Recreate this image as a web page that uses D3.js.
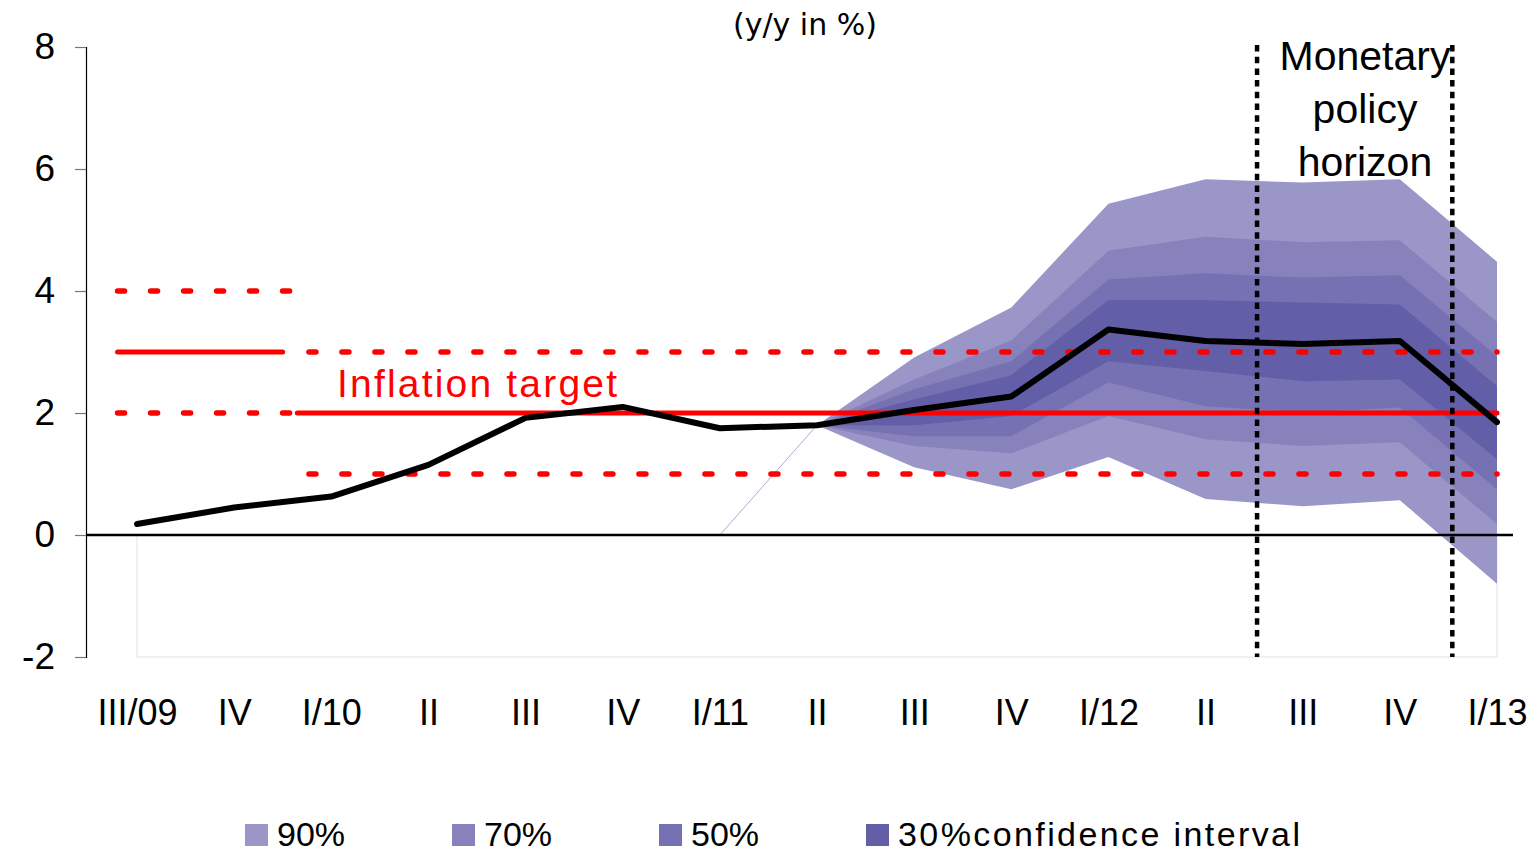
<!DOCTYPE html>
<html>
<head>
<meta charset="utf-8">
<script src="https://cdn.jsdelivr.net/npm/d3@7"></script>
<style>
  body { margin: 0; background: #fff; }
  svg { display: block; font-family: "Liberation Sans", Arial, sans-serif; }
</style>
</head>
<body>
<div id="chart-container"></div>
<script>
// Quarter labels on the x axis
const quarters = ["III/09", "IV", "I/10", "II", "III", "IV", "I/11", "II", "III", "IV", "I/12", "II", "III", "IV", "I/13"];

// Inflation y/y in %, one value per quarter
const inflation = [0.18, 0.45, 0.63, 1.15, 1.92, 2.1, 1.75, 1.8, 2.05, 2.27, 3.37, 3.18, 3.13, 3.18, 1.85];

// Fan chart bands, starting at II/11 (index 7)
const fanStart = 7;
const hi90 = [1.8, 2.91, 3.73, 5.43, 5.83, 5.78, 5.83, 4.48];
const hi70 = [1.8, 2.55, 3.19, 4.66, 4.89, 4.80, 4.83, 3.49];
const hi50 = [1.8, 2.39, 2.85, 4.19, 4.29, 4.22, 4.26, 2.93];
const hi30 = [1.8, 2.22, 2.62, 3.85, 3.85, 3.81, 3.78, 2.44];
const lo30 = [1.8, 1.80, 1.95, 2.85, 2.69, 2.52, 2.55, 1.24];
const lo50 = [1.8, 1.62, 1.62, 2.50, 2.11, 2.01, 2.09, 0.75];
const lo70 = [1.8, 1.46, 1.34, 1.95, 1.57, 1.46, 1.52, 0.18];
const lo90 = [1.8, 1.11, 0.75, 1.28, 0.59, 0.47, 0.57, -0.80];

const yTicks = [-2, 0, 2, 4, 6, 8];
const bandNames = ["90%", "70%", "50%", "30%confidence interval"];
const bandColors = ["#9a96c8", "#8782bb", "#7671b2", "#625ea8"];

// target lines: [value, from index, to index]
const targetSolid = [[3, -0.2, 1.5], [2, 1.65, 14]];
const targetDotted = [[4, -0.2, 1.58], [2, -0.2, 1.58], [3, 1.77, 14], [1, 1.77, 14]];
const horizon = [11.53, 13.54];

const W = 1539, H = 855;

const x = d3.scaleLinear().domain([0, 14]).range([137, 1497]);
const y = d3.scaleLinear().domain([-2, 8]).range([657, 47]);

const svg = d3.select("#chart-container")
  .append("svg")
    .attr("width", W)
    .attr("height", H);

// faint outline of the base area (as in the original)
svg.append("path")
  .attr("d", `M${x(0)},${y(0)}V${y(-2)}H${x(14)}V${y(0)}`)
  .attr("fill", "none")
  .attr("stroke", "#e2e1f0")
  .attr("stroke-width", 1);
svg.append("line")
  .attr("x1", x(6)).attr("y1", y(0))
  .attr("x2", x(7)).attr("y2", y(1.8))
  .attr("stroke", "#9a96c8")
  .attr("stroke-width", 0.8);

// Fan chart
const bands = [[hi90, lo90], [hi70, lo70], [hi50, lo50], [hi30, lo30]];
const area = d3.area()
  .x((d, i) => x(fanStart + i))
  .y0(d => y(d[1]))
  .y1(d => y(d[0]));

bands.forEach((b, k) => {
  const pts = b[0].map((v, i) => [v, b[1][i]]);
  svg.append("path")
    .datum(pts)
    .attr("fill", bandColors[k])
    .attr("d", area);
});

// zero line
svg.append("line")
  .attr("x1", 86).attr("x2", 1513)
  .attr("y1", y(0)).attr("y2", y(0))
  .attr("stroke", "#000")
  .attr("stroke-width", 2.5);

// inflation target lines
svg.selectAll(".tSolid")
  .data(targetSolid)
  .join("line")
  .attr("x1", d => x(d[1]))
  .attr("x2", d => x(d[2]))
  .attr("y1", d => y(d[0]))
  .attr("y2", d => y(d[0]))
  .attr("stroke", "#ff0000")
  .attr("stroke-width", 5)
  .attr("stroke-linecap", "round");

svg.selectAll(".tDot")
  .data(targetDotted)
  .join("line")
  .attr("x1", d => x(d[1]))
  .attr("x2", d => x(d[2]))
  .attr("y1", d => y(d[0]))
  .attr("y2", d => y(d[0]))
  .attr("stroke", "#ff0000")
  .attr("stroke-width", 5.5)
  .attr("stroke-linecap", "round")
  .attr("stroke-dasharray", "7,26");

// monetary policy horizon
svg.selectAll(".hz")
  .data(horizon)
  .join("line")
  .attr("x1", d => x(d))
  .attr("x2", d => x(d))
  .attr("y1", 45)
  .attr("y2", y(-2))
  .attr("stroke", "#000")
  .attr("stroke-width", 4.5)
  .attr("stroke-dasharray", "6.5,5.2");

// inflation line
const line = d3.line()
  .x((d, i) => x(i))
  .y(d => y(d));

svg.append("path")
  .datum(inflation)
  .attr("fill", "none")
  .attr("stroke", "#000")
  .attr("stroke-width", 6)
  .attr("stroke-linecap", "round")
  .attr("stroke-linejoin", "round")
  .attr("d", line);

// y axis
const yAxis = svg.append("g")
  .attr("transform", "translate(86,0)")
  .call(d3.axisLeft(y).tickValues(yTicks).tickSize(11).tickPadding(20).tickFormat(d => String(d)));
yAxis.select(".domain").attr("stroke", "#000").attr("stroke-width", 1.2);
yAxis.selectAll(".tick line").attr("stroke", "#777").attr("stroke-width", 1.2);
yAxis.selectAll("text")
  .style("font-size", "37px")
  .style("font-family", "Liberation Sans, Arial, sans-serif")
  .attr("fill", "#000");

// x axis labels
const xAxis = svg.append("g")
  .attr("transform", `translate(0,${y(-2)})`)
  .call(d3.axisBottom(x).tickValues(d3.range(quarters.length)).tickSize(0).tickPadding(42)
    .tickFormat(i => quarters[i]));
xAxis.select(".domain").remove();
xAxis.selectAll("text")
  .style("font-size", "36px")
  .style("font-family", "Liberation Sans, Arial, sans-serif")
  .attr("fill", "#000");

// titles
svg.append("text")
  .attr("x", 805).attr("y", 35)
  .attr("text-anchor", "middle")
  .style("font-family", "DejaVu Sans, Verdana, sans-serif")
  .style("font-size", "30px")
  .text("(y/y in %)");

svg.append("text")
  .attr("x", 337).attr("y", 397)
  .attr("textLength", 280)
  .attr("fill", "#ff0000")
  .style("font-size", "39px")
  .text("Inflation target");

["Monetary", "policy", "horizon"].forEach((t, i) => {
  svg.append("text")
    .attr("x", 1365).attr("y", 70 + i * 53)
    .attr("text-anchor", "middle")
    .style("font-size", "41px")
    .text(t);
});

// legend
const legendX = [245, 452, 659, 866];
const legend = svg.selectAll(".lg")
  .data(bandNames)
  .join("g")
  .attr("transform", (d, i) => `translate(${legendX[i]},824)`);
legend.append("rect")
  .attr("width", 23).attr("height", 22)
  .attr("fill", (d, i) => bandColors[i]);
legend.append("text")
  .attr("x", 32).attr("y", 22)
  .style("font-size", "34px")
  .text(d => d);
legend.filter((d, i) => i === 3).select("text").attr("textLength", 402);
</script>
</body>
</html>
